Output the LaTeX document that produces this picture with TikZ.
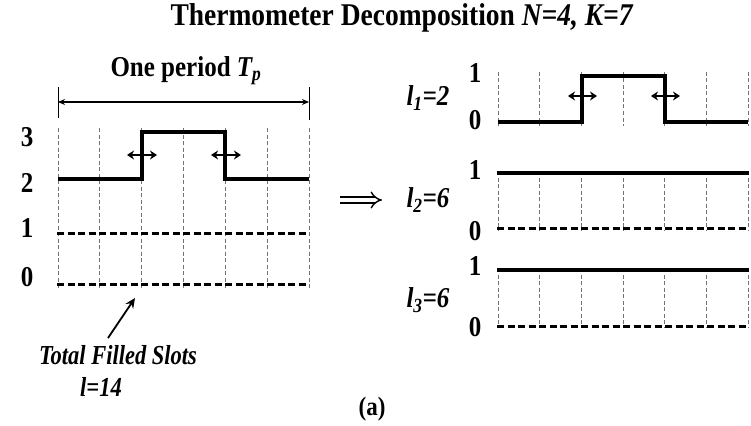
\documentclass[tikz,border=0pt]{standalone}
\usepackage{graphicx}
\usepackage{fontspec}
\setmainfont{Liberation Serif}
\usetikzlibrary{arrows.meta}
\newcommand{\tallt}[1]{\scalebox{1}[1.15]{#1}}
\begin{document}
\begin{tikzpicture}[x=1pt,y=-1pt,
  lbl/.style={font=\fontsize{25}{28}\selectfont\bfseries, inner sep=0pt},
  ilbl/.style={font=\fontsize{25}{28}\selectfont\bfseries\itshape, inner sep=0pt},
  gridln/.style={black!55, line width=0.8pt, dash pattern=on 4pt off 2.5pt},
  sig/.style={line width=3.2pt},
  zero/.style={line width=3pt, dash pattern=on 7pt off 3.5pt},
  dbl/.style={line width=1.8pt, {Stealth[length=7pt,width=9pt]}-{Stealth[length=7pt,width=9pt]}},
]
\useasboundingbox (0,0) rectangle (751,425);

% title
\node[lbl, font=\fontsize{27.5}{30}\selectfont\bfseries] (title) at (402,18) {\tallt{Thermometer Decomposition \textit{N=4, K=7}}};

% one period
\node[lbl] (period) at (186,71) {\tallt{One period \textit{T\textsubscript{p}}}};
\coordinate (pl) at (58,102);
\coordinate (pr) at (309,102);
\draw[line width=0.9pt] (58,87) -- (58,118);
\draw[line width=0.9pt] (309,87) -- (309,120);
\draw[line width=1.2pt, {Stealth[length=7pt,width=6pt]}-{Stealth[length=7pt,width=6pt]}] (pl) -- (pr);

% left grid
\foreach \i in {0,...,6} {\draw[gridln] (58+41.83*\i,128) -- (58+41.83*\i,290);}
\draw[sig] (58,179) -- (142,179) -- (142,132) -- (225,132) -- (225,179) -- (309,179);
\draw[zero] (57,233) -- (309,233);
\draw[zero] (57,284) -- (309,284);
\draw[dbl] (127,155) -- (157,155);
\draw[dbl] (211,155) -- (241,155);
\node[lbl] (n3) at (27,137) {\tallt{3}};
\node[lbl] (n2) at (27,183) {\tallt{2}};
\node[lbl] (n1) at (27,228) {\tallt{1}};
\node[lbl] (n0) at (27,277) {\tallt{0}};

% total filled slots
\node[ilbl, font=\fontsize{22.5}{26}\selectfont\bfseries\itshape] (tot) at (118,355) {\scalebox{1}[1.22]{Total Filled Slots}};
\node[ilbl, font=\fontsize{22.5}{26}\selectfont\bfseries\itshape] (totl) at (101,387) {\scalebox{1}[1.22]{l=14}};
\coordinate (tail) at (108,338);
\coordinate (tip) at (135,298);
\draw[line width=1.8pt, -{Stealth[length=10pt,width=9pt]}] (tail) -- (tip);

% big implication arrow
\coordinate (ia) at (340,200);
\coordinate (ib) at (382,200);
\draw[double, double distance=4.5pt, line width=1.4pt, -{Implies}] (ia) -- (ib);

% right row 1
\foreach \i in {0,...,6} {\draw[gridln] (498+41.67*\i,72) -- (498+41.67*\i,126);}
\draw[sig] (498,122) -- (582,122) -- (582,76) -- (665,76) -- (665,122) -- (748,122);
\draw[dbl] (568,96) -- (597,96);
\draw[dbl] (651,96) -- (680,96);
\node[lbl] (r1a) at (475,73) {\tallt{1}};
\node[lbl] (r1b) at (475,120) {\tallt{0}};
\node[ilbl] (l1) at (428,98) {\tallt{l\textsubscript{1}=2}};

% right row 2
\foreach \i in {0,...,6} {\draw[gridln] (498+41.67*\i,171) -- (498+41.67*\i,230);}
\draw[sig] (497,173) -- (749,173);
\draw[zero] (497,228) -- (749,228);
\node[lbl] (r2a) at (475,170) {\tallt{1}};
\node[lbl] (r2b) at (475,231) {\tallt{0}};
\node[ilbl] (l2) at (428,200) {\tallt{l\textsubscript{2}=6}};

% right row 3
\foreach \i in {0,...,6} {\draw[gridln] (498+41.67*\i,268) -- (498+41.67*\i,328);}
\draw[sig] (497,270) -- (749,270);
\draw[zero] (497,326) -- (749,326);
\node[lbl] (r3a) at (475,266) {\tallt{1}};
\node[lbl] (r3b) at (475,327) {\tallt{0}};
\node[ilbl] (l3) at (428,300) {\tallt{l\textsubscript{3}=6}};

% caption
\node[lbl, font=\fontsize{23}{26}\selectfont\bfseries] (cap) at (372,409) {\tallt{(a)}};
\end{tikzpicture}
\end{document}
